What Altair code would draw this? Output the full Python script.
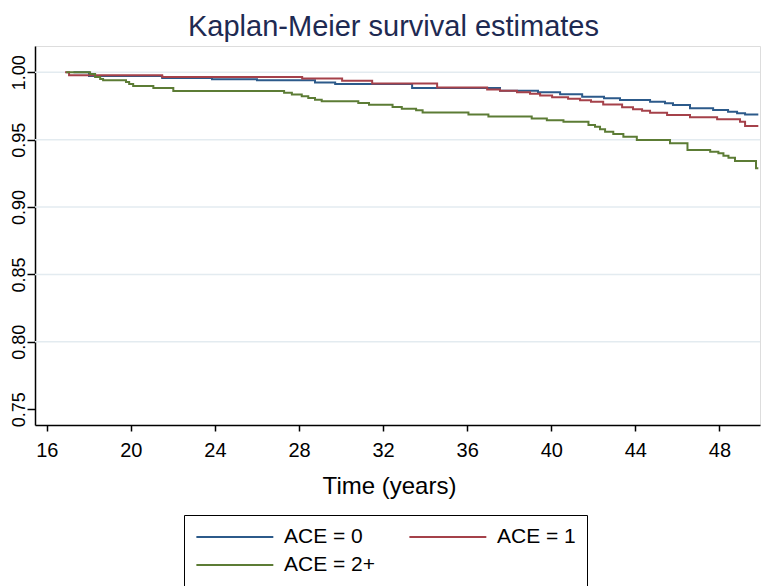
import altair as alt
import pandas as pd

groups = ["ACE = 0", "ACE = 1", "ACE = 2+"]
colors = ["#2c5a8a", "#a5414a", "#5c7c35"]

x_ticks = [16, 20, 24, 28, 32, 36, 40, 44, 48]
y_ticks = [0.75, 0.80, 0.85, 0.90, 0.95, 1.00]
grid_vals = [0.80, 0.85, 0.90, 0.95, 1.00]

t_ace0 = [17.27, 18.01, 21.49, 23.86, 26.00, 28.76, 29.72, 33.38, 37.56, 39.37,
          40.42, 41.47, 42.51, 43.27, 44.70, 45.41, 45.79, 46.60, 47.70, 48.41,
          48.84, 49.22, 49.85]
s_ace0 = [1.0000, 0.9973, 0.9958, 0.9948, 0.9941, 0.9924, 0.9913, 0.9884, 0.9863, 0.9852,
          0.9837, 0.9819, 0.9807, 0.9794, 0.9782, 0.9770, 0.9757, 0.9733, 0.9720, 0.9708,
          0.9696, 0.9687, 0.9687]

t_ace1 = [16.87, 17.06, 21.49, 28.15, 30.05, 31.48, 34.57, 36.95, 37.56, 38.37,
          38.99, 39.47, 40.04, 40.80, 41.37, 41.89, 42.47, 43.37, 43.89, 44.32,
          44.70, 45.51, 46.60, 47.89, 48.98, 49.22, 49.85]
s_ace1 = [1.0000, 0.9978, 0.9965, 0.9953, 0.9938, 0.9917, 0.9887, 0.9872, 0.9863, 0.9852,
          0.9840, 0.9828, 0.9815, 0.9803, 0.9792, 0.9781, 0.9761, 0.9741, 0.9725, 0.9715,
          0.9700, 0.9683, 0.9666, 0.9651, 0.9633, 0.9602, 0.9602]

t_ace2 = [16.92, 18.06, 18.30, 18.54, 18.68, 19.77, 19.92, 20.11, 21.07, 22.02,
          27.29, 27.66, 28.13, 28.44, 28.76, 29.08, 30.82, 31.33, 32.45, 32.89,
          33.57, 33.88, 36.06, 37.01, 39.07, 39.79, 40.58, 41.77, 42.08, 42.32,
          42.56, 42.95, 43.43, 44.07, 45.65, 46.48, 47.56, 47.95, 48.19, 48.43,
          48.74, 49.74, 49.85]
s_ace2 = [1.0000, 0.9987, 0.9965, 0.9950, 0.9941, 0.9928, 0.9913, 0.9898, 0.9884, 0.9861,
          0.9848, 0.9835, 0.9822, 0.9809, 0.9797, 0.9785, 0.9772, 0.9760, 0.9743, 0.9730,
          0.9718, 0.9701, 0.9687, 0.9671, 0.9657, 0.9645, 0.9633, 0.9609, 0.9596, 0.9577,
          0.9559, 0.9542, 0.9522, 0.9498, 0.9473, 0.9423, 0.9411, 0.9399, 0.9381, 0.9366,
          0.9342, 0.9288, 0.9288]

frames = []
for g, t, s in zip(groups, [t_ace0, t_ace1, t_ace2], [s_ace0, s_ace1, s_ace2]):
    frames.append(pd.DataFrame({"t": t, "S": s, "group": g}))
df = pd.concat(frames, ignore_index=True)
grid_df = pd.DataFrame({"g": grid_vals})

FONT = "Liberation Sans"
x_scale = alt.Scale(domain=[15.44, 49.93], nice=False, zero=False)
y_scale = alt.Scale(domain=[0.7383, 1.0195], nice=False, zero=False)

y_axis = alt.Axis(values=y_ticks, format=".2f", title=None, labelAngle=270,
                  labelAlign="center", labelBaseline="middle", labelPadding=8,
                  labelFont=FONT, labelFontSize=18, labelColor="black",
                  tickSize=8, tickColor="black", tickWidth=1.5,
                  domainColor="black", domainWidth=1.5, grid=False)

grid = alt.Chart(grid_df).mark_rule(color="#e3ebf0", strokeWidth=1.5).encode(
    y=alt.Y("g:Q", scale=y_scale, axis=y_axis)
)

lines = alt.Chart(df).mark_line(interpolate="step-after", strokeWidth=2).encode(
    x=alt.X("t:Q", scale=x_scale,
            axis=alt.Axis(values=x_ticks, title="Time (years)", labelFont=FONT,
                          labelFontSize=20, labelColor="black", labelPadding=9,
                          labelFlush=False, tickSize=6, tickColor="black", tickWidth=1.5,
                          domainColor="black", domainWidth=1.5, grid=False,
                          titleFont=FONT, titleFontSize=24, titleFontWeight="normal",
                          titleColor="black", titlePadding=14, titleX=354)),
    y=alt.Y("S:Q", scale=y_scale, axis=y_axis),
    color=alt.Color("group:N",
                    scale=alt.Scale(domain=groups, range=colors),
                    legend=alt.Legend(title=None, orient="none", legendX=149, legendY=469,
                                      direction="horizontal",
                                      columns=2, symbolType="M-1,0H7", symbolSize=370,
                                      symbolStrokeWidth=2, labelOffset=67,
                                      labelFont=FONT, labelFontSize=21, labelColor="black",
                                      columnPadding=29, rowPadding=7, padding=11,
                                      strokeColor="black")),
)

chart = alt.layer(grid, lines).resolve_axis(y="shared").properties(
    width=725,
    height=379,
    autosize="none",
    padding={"left": 27, "top": 38, "right": 6, "bottom": 161},
    title=alt.TitleParams("Kaplan-Meier survival estimates", font=FONT, fontSize=29,
                          fontWeight="normal", color="#1e2a52", anchor="middle",
                          dx=-4, offset=4),
).configure_view(stroke=None).configure(background="white")

chart.save("out.html", embed_options={"renderer": "svg", "actions": False})
